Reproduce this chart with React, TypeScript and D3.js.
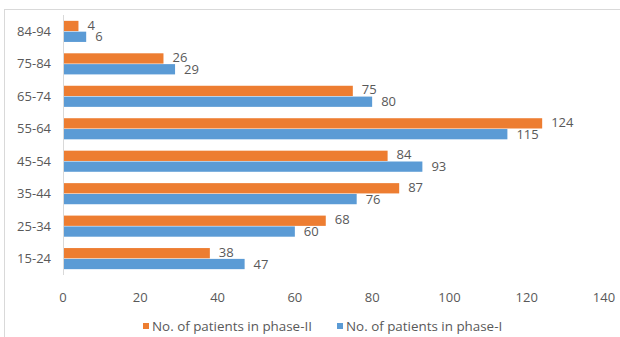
import React, { useRef, useEffect } from 'react';
import * as d3 from 'd3';

const ageGroups = ['84-94', '75-84', '65-74', '55-64', '45-54', '35-44', '25-34', '15-24'];
const phase2 = [4, 26, 75, 124, 84, 87, 68, 38];
const phase1 = [6, 29, 80, 115, 93, 76, 60, 47];
const xTicks = [0, 20, 40, 60, 80, 100, 120, 140];
const seriesNames = ['No. of patients in phase-II', 'No. of patients in phase-I'];

const ORANGE = '#ED7D31';
const BLUE = '#5B9BD5';
const TEXT = '#595959';

const App = () => {
  const ref = useRef<SVGSVGElement>(null);

  useEffect(() => {
    if (!ref.current) return;
    const svg = d3.select(ref.current);
    svg.selectAll('*').remove();

    const width = 620;
    const height = 337;
    const margin = { top: 15, right: 16, bottom: 62, left: 63 };
    const font = '"Open Sans", "Liberation Sans", sans-serif';
    const fontSize = '13px';

    // chart frame (cut off at right and bottom)
    svg.append('rect')
      .attr('x', 4.5).attr('y', 9.5)
      .attr('width', width).attr('height', height)
      .attr('fill', '#fff')
      .attr('stroke', '#d9d9d9');

    const x = d3.scaleLinear()
      .domain([0, 140])
      .range([margin.left, 604]);

    const y = d3.scaleBand()
      .domain(ageGroups)
      .range([margin.top, height - margin.bottom])
      .paddingInner(0.35)
      .paddingOuter(0.18);

    const sub = d3.scaleBand()
      .domain(['p2', 'p1'])
      .range([0, y.bandwidth()])
      .paddingInner(0.05);

    // value axis labels
    svg.append('g')
      .selectAll('text')
      .data(xTicks)
      .join('text')
      .attr('x', d => x(d))
      .attr('y', 297)
      .attr('dy', '0.35em')
      .attr('text-anchor', 'middle')
      .attr('fill', TEXT)
      .style('font-family', font)
      .style('font-size', fontSize)
      .text(d => d);

    // category axis
    svg.append('line')
      .attr('x1', x(0) + 0.5).attr('x2', x(0) + 0.5)
      .attr('y1', y.range()[0]).attr('y2', y.range()[1])
      .attr('stroke', '#d9d9d9');

    svg.append('g')
      .selectAll('text')
      .data(ageGroups)
      .join('text')
      .attr('x', 51)
      .attr('y', d => (y(d) as number) + y.bandwidth() / 2)
      .attr('dy', '0.35em')
      .attr('text-anchor', 'end')
      .attr('fill', TEXT)
      .style('font-family', font)
      .style('font-size', fontSize)
      .text(d => d);

    const series = [
      { key: 'p2', values: phase2, color: ORANGE, shift: -1 },
      { key: 'p1', values: phase1, color: BLUE, shift: 0 },
    ];

    series.forEach(s => {
      const g = svg.append('g');
      g.selectAll('rect')
        .data(ageGroups)
        .join('rect')
        .attr('x', x(0) + 1)
        .attr('y', d => (y(d) as number) + (sub(s.key) as number))
        .attr('width', (d, i) => x(s.values[i]) - x(0) - 1)
        .attr('height', sub.bandwidth())
        .attr('fill', s.color);

      g.selectAll('text')
        .data(ageGroups)
        .join('text')
        .attr('x', (d, i) => x(s.values[i]) + 9)
        .attr('y', d => (y(d) as number) + (sub(s.key) as number) + sub.bandwidth() / 2 + s.shift)
        .attr('dy', '0.35em')
        .attr('fill', TEXT)
        .style('font-family', font)
        .style('font-size', fontSize)
        .text((d, i) => s.values[i]);
    });

    // legend
    const legend = svg.append('g').attr('transform', 'translate(0,326)');
    const legendX = [143, 337];
    seriesNames.forEach((name, i) => {
      legend.append('rect')
        .attr('x', legendX[i])
        .attr('y', -3)
        .attr('width', 6)
        .attr('height', 6)
        .attr('fill', series[i].color);
      legend.append('text')
        .attr('x', legendX[i] + 9)
        .attr('y', 0)
        .attr('dy', '0.35em')
        .attr('fill', TEXT)
        .style('font-family', font)
        .style('font-size', '13.4px')
        .text(name);
    });
  }, []);

  return (
    <svg
      ref={ref}
      width={620}
      height={337}
      style={{ position: 'absolute', left: 0, top: 0 }}
    />
  );
};

export default App;
